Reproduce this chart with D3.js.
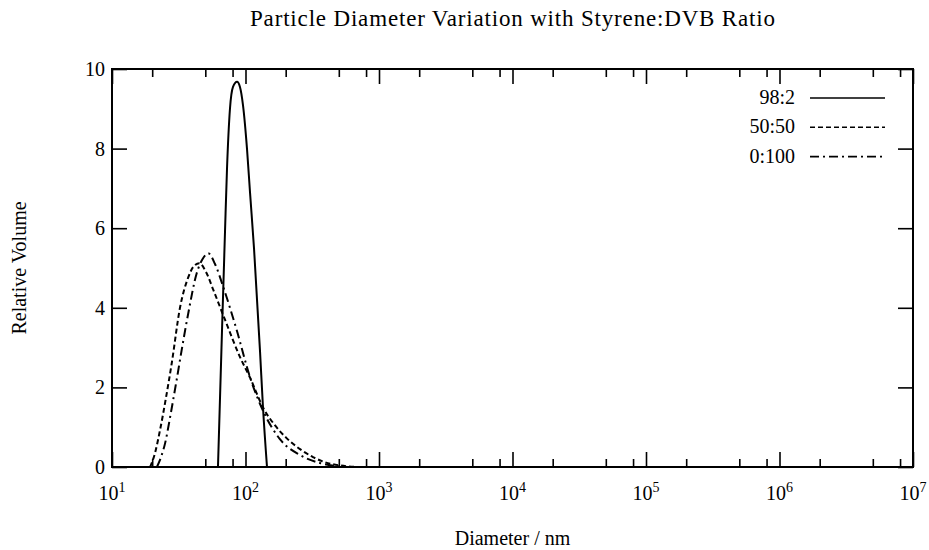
<!DOCTYPE html>
<html>
<head>
<meta charset="utf-8">
<script src="https://cdn.jsdelivr.net/npm/d3@7/dist/d3.min.js"></script>
<style>
    html, body { margin: 0; padding: 0; background: #fff; }
    svg text { font-family: "Liberation Serif", "DejaVu Serif", serif; fill: #000; }
</style>
</head>
<body>
<div id="chart"></div>
<script>
// diameters in nm, volumes
var diam98 = [62.2, 66.1, 70.2, 72.7, 76.5, 80.6, 86.4, 90.9, 95.7, 102.6, 108.1, 115.8, 128.5, 135.2, 144.9];
var vol98 = [0, 3.0, 5.9, 7.5, 9.0, 9.55, 9.68, 9.55, 9.1, 8.0, 6.9, 5.5, 2.9, 1.5, 0];

var diam50 = [19.3, 21.0, 22.9, 25.4, 28.0, 32.3, 37.3, 41.1, 45.1, 50.6, 57.4, 70.2, 91.0, 108, 136, 166, 204, 256, 320, 394, 510, 720];
var vol50 = [0, 0.35, 0.93, 1.75, 2.6, 4.0, 4.77, 5.05, 5.12, 4.9, 4.45, 3.7, 2.76, 2.25, 1.48, 1.05, 0.72, 0.45, 0.25, 0.12, 0.04, 0];

var diam0 = [21.7, 23.3, 25.0, 27.4, 30.5, 33.7, 37.3, 43.1, 47.6, 52.6, 59.1, 68.2, 85.9, 108, 140, 181, 256, 361, 468, 560];
var vol0 = [0, 0.25, 0.6, 1.3, 2.19, 3.05, 3.87, 4.87, 5.22, 5.37, 5.1, 4.52, 3.44, 2.26, 1.31, 0.7, 0.3, 0.1, 0.03, 0];

var seriesNames = ["98:2", "50:50", "0:100"];
var xPowers = [1, 2, 3, 4, 5, 6, 7];
var xMinorSteps = [2, 5, 8];
var yTicks = [0, 2, 4, 6, 8, 10];

(function () {
    var width = 929, height = 550;
    var plotL = 112, plotR = 913, plotT = 69, plotB = 467;

    var svg = d3.select("#chart").append("svg")
        .attr("width", width)
        .attr("height", height);

    var x = d3.scaleLog().domain([10, 1e7]).range([plotL, plotR]);
    var y = d3.scaleLinear().domain([0, 10]).range([plotB, plotT]);

    var majorX = xPowers.map(function (p) { return Math.pow(10, p); });
    var minorX = [];
    xPowers.slice(0, -1).forEach(function (p) {
        xMinorSteps.forEach(function (k) { minorX.push(k * Math.pow(10, p)); });
    });

    function ticks(axis, values, size) {
        return function (g) {
            g.call(axis.tickValues(values).tickSize(-size).tickFormat(""));
            g.select(".domain").remove();
            g.selectAll("line").attr("stroke", "#000").attr("stroke-width", 1.6);
        };
    }

    svg.append("g").attr("transform", "translate(0," + plotB + ")").call(ticks(d3.axisBottom(x), majorX, 15));
    svg.append("g").attr("transform", "translate(0," + plotB + ")").call(ticks(d3.axisBottom(x), minorX, 8));
    svg.append("g").attr("transform", "translate(0," + plotT + ")").call(ticks(d3.axisTop(x), majorX, 15));
    svg.append("g").attr("transform", "translate(0," + plotT + ")").call(ticks(d3.axisTop(x), minorX, 8));
    svg.append("g").attr("transform", "translate(" + plotL + ",0)").call(ticks(d3.axisLeft(y), yTicks, 15));
    svg.append("g").attr("transform", "translate(" + plotR + ",0)").call(ticks(d3.axisRight(y), yTicks, 15));

    // frame
    svg.append("rect")
        .attr("x", plotL).attr("y", plotT)
        .attr("width", plotR - plotL).attr("height", plotB - plotT)
        .attr("fill", "none").attr("stroke", "#000").attr("stroke-width", 2);

    // x tick labels with superscripts
    var xl = svg.append("g").selectAll("text")
        .data(xPowers)
        .enter().append("text")
        .attr("x", function (p) { return x(Math.pow(10, p)); })
        .attr("y", 500)
        .attr("text-anchor", "middle")
        .style("font-size", "20px");
    xl.append("tspan").text("10");
    xl.append("tspan").attr("dy", -8).style("font-size", "14px").text(function (p) { return p; });

    svg.append("g").selectAll("text")
        .data(yTicks)
        .enter().append("text")
        .attr("x", 105)
        .attr("y", function (d) { return y(d) + 7; })
        .attr("text-anchor", "end")
        .style("font-size", "20px")
        .text(function (d) { return d; });

    svg.append("text")
        .attr("x", (plotL + plotR) / 2).attr("y", 26)
        .attr("text-anchor", "middle")
        .attr("textLength", 525)
        .attr("lengthAdjust", "spacing")
        .style("font-size", "23px")
        .text("Particle Diameter Variation with Styrene:DVB Ratio");

    svg.append("text")
        .attr("x", (plotL + plotR) / 2).attr("y", 545)
        .attr("text-anchor", "middle")
        .style("font-size", "20px")
        .text("Diameter / nm");

    svg.append("text")
        .attr("transform", "translate(26," + (plotT + plotB) / 2 + ") rotate(-90)")
        .attr("text-anchor", "middle")
        .style("font-size", "20px")
        .text("Relative Volume");

    var series = [
        { name: seriesNames[0], d: diam98, v: vol98, dash: null },
        { name: seriesNames[1], d: diam50, v: vol50, dash: "5,3" },
        { name: seriesNames[2], d: diam0, v: vol0, dash: "9,4,2,4" }
    ];

    var line = d3.line()
        .x(function (p) { return x(p[0]); })
        .y(function (p) { return y(p[1]); })
        .curve(d3.curveMonotoneX);

    svg.append("g").selectAll("path")
        .data(series)
        .enter().append("path")
        .attr("d", function (s) { return line(d3.zip(s.d, s.v)); })
        .attr("fill", "none")
        .attr("stroke", "#000")
        .attr("stroke-width", 2)
        .attr("stroke-dasharray", function (s) { return s.dash; });

    // legend
    var lg = svg.append("g").selectAll("g")
        .data(series)
        .enter().append("g")
        .attr("transform", function (s, i) { return "translate(0," + (98 + i * 29.3) + ")"; });
    lg.append("text")
        .attr("x", 795).attr("y", 6)
        .attr("text-anchor", "end")
        .style("font-size", "20px")
        .text(function (s) { return s.name; });
    lg.append("line")
        .attr("x1", 810).attr("x2", 885)
        .attr("stroke", "#000").attr("stroke-width", 1.6)
        .attr("stroke-dasharray", function (s) { return s.dash; });
})();
</script>
</body>
</html>
